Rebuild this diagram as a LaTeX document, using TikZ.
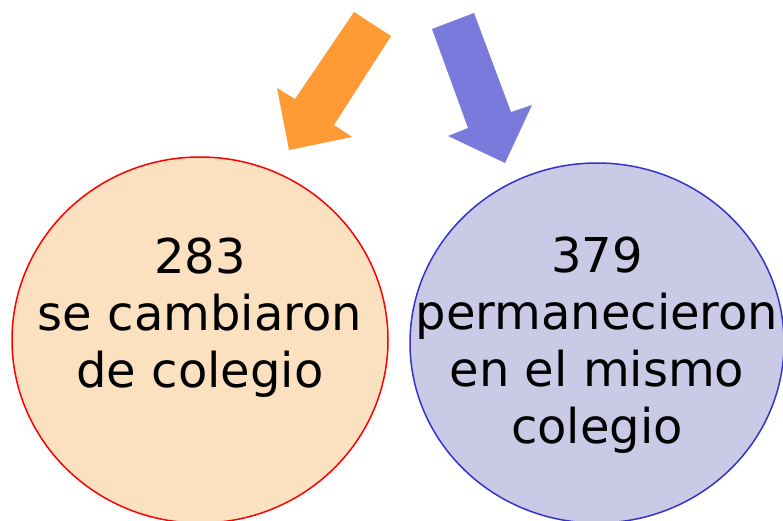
\documentclass[tikz,border=0pt]{standalone}
\usepackage{fontspec}
\setmainfont{DejaVu Sans}
\usepackage{tikz}
\usetikzlibrary{shapes.geometric}
\definecolor{arrorange}{HTML}{FF9A35}
\definecolor{arrpurple}{HTML}{7A7ADC}
\definecolor{peach}{HTML}{FBE1BF}
\definecolor{lilac}{HTML}{CACAE6}
\definecolor{ringblue}{HTML}{3333CC}

\begin{document}
\begin{tikzpicture}[x=1pt, y=-1pt, blob/.style={ellipse, inner sep=0pt, line width=1.5pt}, txt/.style={align=center, font=\fontsize{48}{57}\selectfont}]
		\useasboundingbox (0,0) rectangle (783,521);
		\node[blob, draw=red, fill=peach, minimum width=376pt, minimum height=366pt] (cambio) at (200,340) {};
		\node[blob, draw=ringblue, fill=lilac, minimum width=374pt, minimum height=360pt] (mismo) at (597,343) {};
		\node[txt] (cambiotxt) at ([yshift=22pt]cambio.center) {283\\se cambiaron\\de colegio};
		\node[txt] (mismotxt) at ([yshift=-2pt]mismo.center) {379\\permanecieron\\en el mismo\\colegio};

		\fill[arrorange] (354,12) -- (391,36) -- (334,125) -- (352,137) -- (289,150) -- (277,88) -- (295,99) -- cycle;
		\fill[arrpurple] (432,29) -- (474,13) -- (511,112) -- (532,105) -- (505,163) -- (448,136) -- (468,128) -- cycle;
\end{tikzpicture}
\end{document}
